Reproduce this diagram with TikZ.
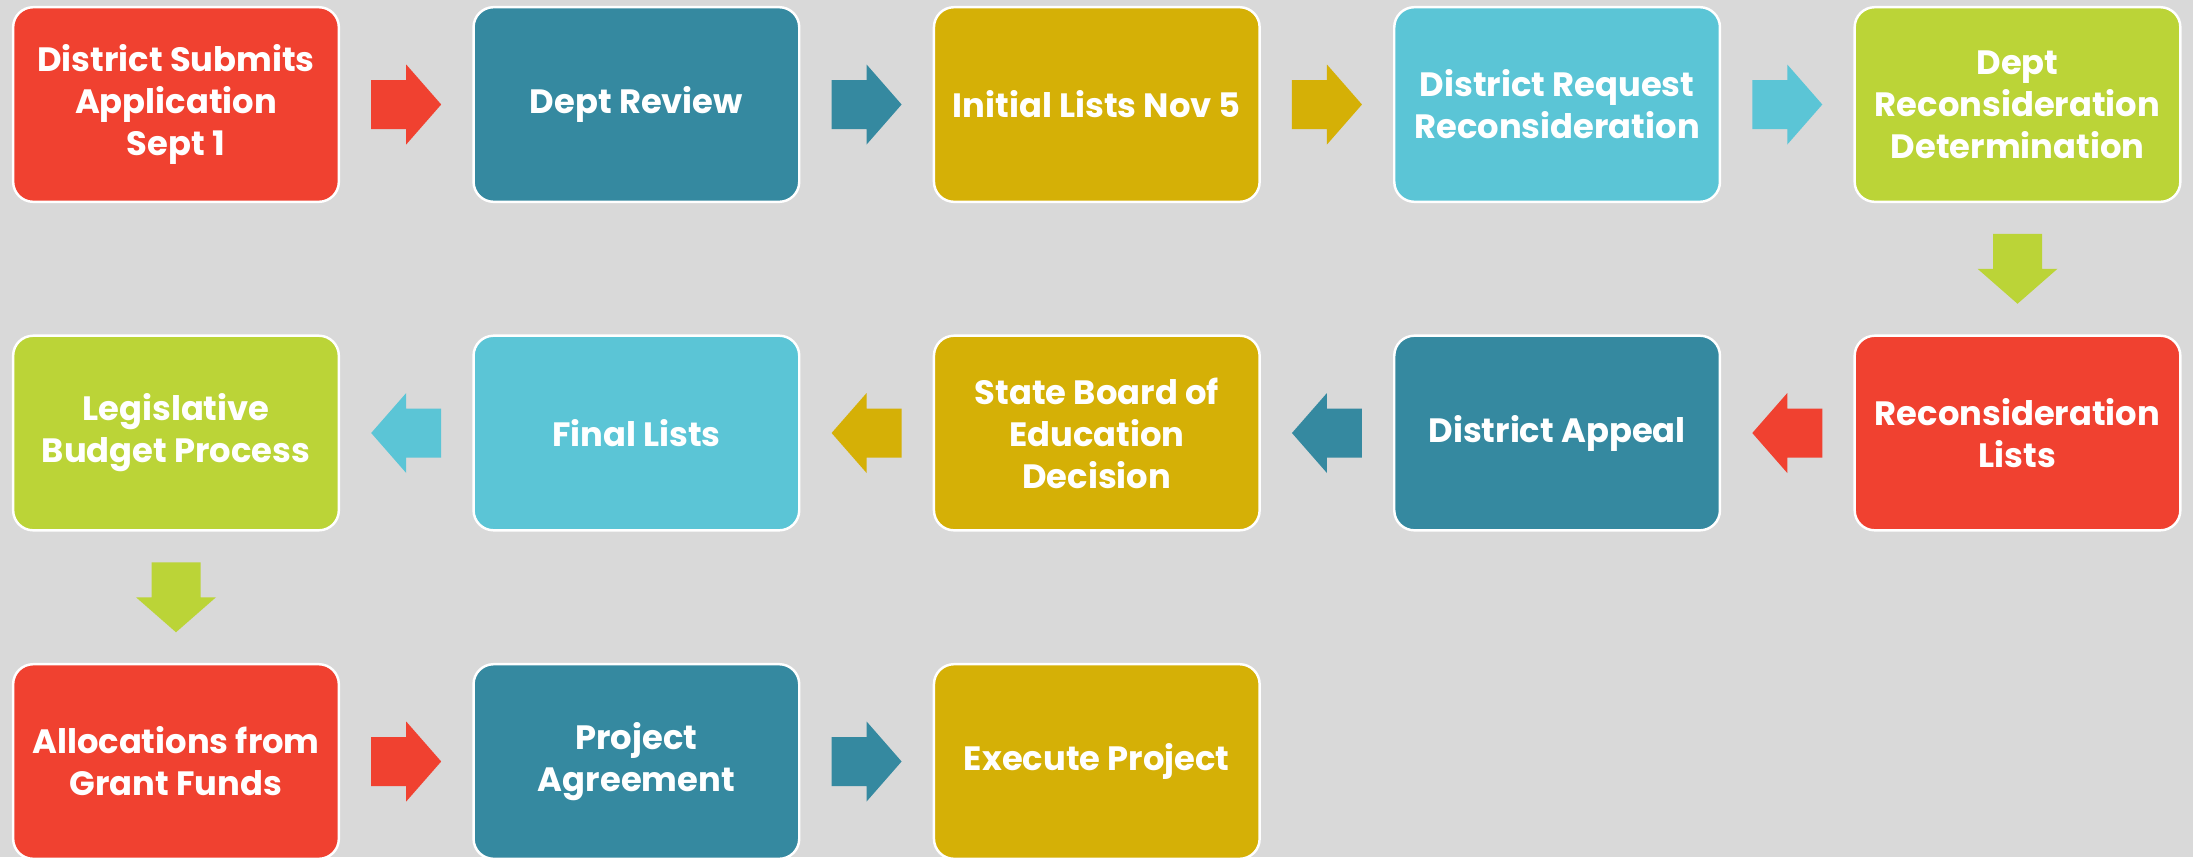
\documentclass[tikz,border=0pt]{standalone}
\usepackage{fontspec}
\setmainfont{Poppins}
\usetikzlibrary{calc}
\definecolor{bgcol}{HTML}{D9D9D9}
\definecolor{redbox}{HTML}{F04130}
\definecolor{tealbox}{HTML}{3589A0}
\definecolor{goldbox}{HTML}{D5B006}
\definecolor{bluebox}{HTML}{5BC5D6}
\definecolor{greenbox}{HTML}{BBD437}
\tikzset{
	stepbox/.style={rounded corners=0.2cm, draw=white, line width=0.7pt, fill=#1, minimum width=3.255cm, minimum height=1.945cm, text=white, align=center, font=\fontsize{9.6}{11.95}\selectfont\bfseries},
	pics/flowarrow/.style={code={\fill[#1] (-35,-24.5) -- (0,-24.5) -- (0,-40) -- (35,0) -- (0,40) -- (0,24.5) -- (-35,24.5) -- cycle;}}
}
\begin{document}
\begin{tikzpicture}[x=0.01cm,y=-0.01cm]
			%%%%% START %%%%%
			\def\xa{176}
			\def\xb{636.4}
			\def\xc{1096.8}
			\def\xd{1557.1}
			\def\xe{2017.5}
			\def\ya{104.5}
			\def\yb{433}
			\def\yc{761.5}
			
			\useasboundingbox (0,0) rectangle (2193,857);
			\fill[bgcol] (0,0) rectangle (2193,857);
			\clip (0,0) rectangle (2193,857);
			
			% first row
			\node[stepbox=redbox] (submit) at (\xa,\ya) {District Submits\\Application\\Sept 1};
			\node[stepbox=tealbox] (review) at (\xb,\ya) {Dept Review};
			\node[stepbox=goldbox] (initial) at (\xc,\ya) {Initial Lists Nov 5};
			\node[stepbox=bluebox] (request) at (\xd,\ya) {District Request\\Reconsideration};
			\node[stepbox=greenbox] (determ) at (\xe,\ya) {Dept\\Reconsideration\\Determination};
			
			% second row
			\node[stepbox=redbox] (reclists) at (\xe,\yb) {Reconsideration\\Lists};
			\node[stepbox=tealbox] (appeal) at (\xd,\yb) {District Appeal};
			\node[stepbox=goldbox] (board) at (\xc,\yb) {State Board of\\Education\\Decision};
			\node[stepbox=bluebox] (final) at (\xb,\yb) {Final Lists};
			\node[stepbox=greenbox] (budget) at (\xa,\yb) {Legislative\\Budget Process};
			
			% third row
			\node[stepbox=redbox] (alloc) at (\xa,\yc) {Allocations from\\Grant Funds};
			\node[stepbox=tealbox] (agree) at (\xb,\yc) {Project\\Agreement};
			\node[stepbox=goldbox] (execute) at (\xc,\yc) {Execute Project};
			
			% arrows
			\pic at ($(submit.east)!0.5!(review.west)$) {flowarrow=redbox};
			\pic at ($(review.east)!0.5!(initial.west)$) {flowarrow=tealbox};
			\pic at ($(initial.east)!0.5!(request.west)$) {flowarrow=goldbox};
			\pic at ($(request.east)!0.5!(determ.west)$) {flowarrow=bluebox};
			\pic[rotate=-90] at ($(determ.south)!0.5!(reclists.north)$) {flowarrow=greenbox};
			\pic[rotate=180] at ($(reclists.west)!0.5!(appeal.east)$) {flowarrow=redbox};
			\pic[rotate=180] at ($(appeal.west)!0.5!(board.east)$) {flowarrow=tealbox};
			\pic[rotate=180] at ($(board.west)!0.5!(final.east)$) {flowarrow=goldbox};
			\pic[rotate=180] at ($(final.west)!0.5!(budget.east)$) {flowarrow=bluebox};
			\pic[rotate=-90] at ($(budget.south)!0.5!(alloc.north)$) {flowarrow=greenbox};
			\pic at ($(alloc.east)!0.5!(agree.west)$) {flowarrow=redbox};
			\pic at ($(agree.east)!0.5!(execute.west)$) {flowarrow=tealbox};
			%%%%% END %%%%%
		\end{tikzpicture}
\end{document}
